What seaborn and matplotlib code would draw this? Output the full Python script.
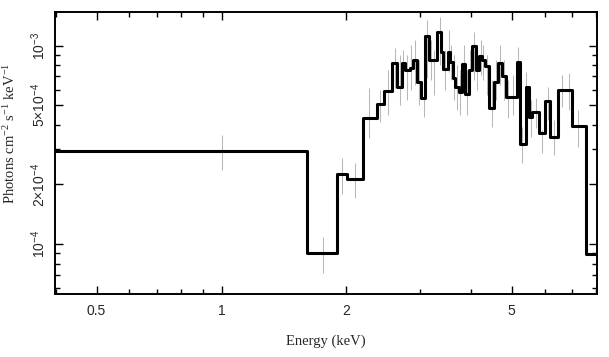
import numpy as np
import pandas as pd
import matplotlib
matplotlib.use('Agg')
import matplotlib.pyplot as plt
import matplotlib.ticker as mticker
import seaborn as sns

# model step histogram: bin edges (keV) and value per bin
model_edges = [0.40, 1.611, 1.893, 2.007, 2.187, 2.367, 2.461, 2.580, 2.650, 2.716,
               2.765, 2.843, 2.885, 2.950, 3.016, 3.094, 3.164, 3.302, 3.382, 3.414,
               3.510, 3.555, 3.609, 3.656, 3.726, 3.793, 3.864, 3.937, 4.010, 4.093,
               4.169, 4.246, 4.302, 4.406, 4.530, 4.631, 4.745, 4.835, 5.138, 5.234,
               5.401, 5.502, 5.603, 5.816, 6.012, 6.182, 6.473, 6.971, 7.547, 8.50]
model_vals = [2.96e-4, 9.01e-5, 2.25e-4, 2.125e-4, 4.30e-4, 5.10e-4, 5.88e-4, 8.21e-4, 6.22e-4,
              8.15e-4, 7.54e-4, 7.69e-4, 8.47e-4, 6.59e-4, 5.47e-4, 1.123e-3, 8.42e-4, 1.176e-3,
              9.33e-4, 7.60e-4, 9.33e-4, 8.31e-4, 6.85e-4, 6.22e-4, 5.87e-4, 8.09e-4, 5.71e-4,
              7.54e-4, 9.91e-4, 7.54e-4, 8.87e-4, 8.47e-4, 7.90e-4, 4.87e-4, 6.59e-4, 8.21e-4,
              7.04e-4, 5.48e-4, 8.31e-4, 3.20e-4, 6.22e-4, 4.36e-4, 4.65e-4, 3.62e-4, 5.27e-4,
              3.48e-4, 5.98e-4, 3.94e-4, 8.94e-5]

# data points: energy and error bar ends
data_e = [1.000, 1.751, 1.946, 2.095, 2.268, 2.413, 2.516, 2.612, 2.689, 2.742,
          2.803, 2.863, 2.918, 2.983, 3.073, 3.119, 3.194, 3.257, 3.357, 3.401,
          3.462, 3.529, 3.578, 3.629, 3.690, 3.758, 3.829, 3.900, 3.972, 4.050,
          4.130, 4.209, 4.275, 4.354, 4.474, 4.581, 4.684, 4.788, 4.910, 5.034,
          5.184, 5.306, 5.411, 5.554, 5.719, 5.903, 6.102, 6.330, 6.597, 6.870, 7.234]
data_hi = [3.55e-4, 1.092e-4, 2.72e-4, 2.57e-4, 6.12e-4, 5.98e-4, 7.54e-4, 9.74e-4, 8.98e-4, 9.51e-4,
           8.98e-4, 1.008e-3, 1.068e-3, 8.47e-4, 1.132e-3, 1.347e-3, 1.068e-3, 9.51e-4, 1.394e-3, 1.132e-3,
           9.51e-4, 1.200e-3, 1.008e-3, 8.98e-4, 8.00e-4, 7.54e-4, 1.008e-3, 7.54e-4, 9.51e-4, 1.172e-3,
           1.008e-3, 1.068e-3, 1.008e-3, 8.98e-4, 6.72e-4, 8.47e-4, 1.008e-3, 8.47e-4, 6.72e-4, 7.12e-4,
           9.85e-4, 3.90e-4, 7.37e-4, 5.33e-4, 5.45e-4, 3.76e-4, 6.19e-4, 4.22e-4, 7.12e-4, 7.29e-4, 4.75e-4]
data_lo = [2.37e-4, 7.19e-5, 1.79e-4, 1.71e-4, 3.43e-4, 4.13e-4, 4.48e-4, 6.12e-4, 5.03e-4, 6.72e-4,
           5.33e-4, 5.98e-4, 6.34e-4, 5.03e-4, 4.38e-4, 6.88e-4, 6.72e-4, 5.65e-4, 8.00e-4, 7.54e-4,
           5.98e-4, 7.37e-4, 6.72e-4, 5.33e-4, 4.75e-4, 4.48e-4, 6.34e-4, 4.48e-4, 5.65e-4, 6.72e-4,
           5.98e-4, 7.12e-4, 6.72e-4, 5.65e-4, 3.90e-4, 5.33e-4, 6.34e-4, 5.33e-4, 4.33e-4, 4.48e-4,
           6.96e-4, 2.57e-4, 4.75e-4, 3.47e-4, 3.85e-4, 2.88e-4, 4.22e-4, 2.82e-4, 4.91e-4, 4.75e-4, 3.09e-4]

x_ticks = [0.5, 1, 2, 5]
x_ticklabels = ['0.5', '1', '2', '5']
y_ticks = [1e-4, 2e-4, 5e-4, 1e-3]
y_ticklabels = ['10$^{-4}$', '2×10$^{-4}$', '5×10$^{-4}$', '10$^{-3}$']

sns.set_style('ticks')
plt.rcParams['font.family'] = ['Liberation Sans', 'DejaVu Sans']
plt.rcParams['mathtext.fontset'] = 'custom'
plt.rcParams['mathtext.rm'] = 'Liberation Sans'
plt.rcParams['mathtext.it'] = 'Liberation Sans:italic'

model_df = pd.DataFrame({'energy': model_edges, 'flux': model_vals + [model_vals[-1]]})

fig = plt.figure(figsize=(6.09, 3.57), dpi=100)
ax = fig.add_axes([0.0903, 0.1756, 0.8897, 0.7916])
ax.set_xscale('log')
ax.set_yscale('log')

# error bars of the data
ax.vlines(data_e, data_lo, data_hi, color='#b8b8b8', linewidth=0.75, zorder=1)

# model histogram
sns.lineplot(data=model_df, x='energy', y='flux', drawstyle='steps-post', sort=False,
             estimator=None, color='black', linewidth=2.2, ax=ax, zorder=2)

ax.set_xlim(0.397, 8.02)
ax.set_ylim(5.6e-5, 1.48e-3)

ax.xaxis.set_major_locator(mticker.FixedLocator(x_ticks))
ax.xaxis.set_major_formatter(mticker.FixedFormatter(x_ticklabels))
ax.xaxis.set_minor_locator(mticker.LogLocator(base=10, subs=np.arange(2, 10), numticks=20))
ax.xaxis.set_minor_formatter(mticker.NullFormatter())
ax.yaxis.set_major_locator(mticker.FixedLocator(y_ticks))
ax.yaxis.set_major_formatter(mticker.FixedFormatter(y_ticklabels))
ax.yaxis.set_minor_locator(mticker.LogLocator(base=10, subs=np.arange(1, 10), numticks=20))
ax.yaxis.set_minor_formatter(mticker.NullFormatter())

ax.tick_params(which='both', direction='in', top=True, right=True, color='black', width=1.0)
ax.tick_params(which='major', length=6)
ax.tick_params(which='minor', length=3.5)
ax.tick_params(axis='x', labelsize=10, pad=7)
ax.tick_params(axis='y', labelsize=10, pad=5)
for lab in ax.get_yticklabels():
    lab.set_rotation(90)
    lab.set_va('center')
    lab.set_ha('right')

for sp in ax.spines.values():
    sp.set_linewidth(1.4)
    sp.set_color('black')

ax.set_xlabel('Energy (keV)', family='Liberation Serif', fontsize=10.5, labelpad=12)
ax.set_ylabel(r'Photons cm$^{\mathregular{-2}}$ s$^{\mathregular{-1}}$ keV$^{\mathregular{-1}}$',
              family='Liberation Serif', fontsize=10.5)
ax.yaxis.set_label_coords(-0.068, 0.57)

fig.savefig('out.png', dpi=100)
